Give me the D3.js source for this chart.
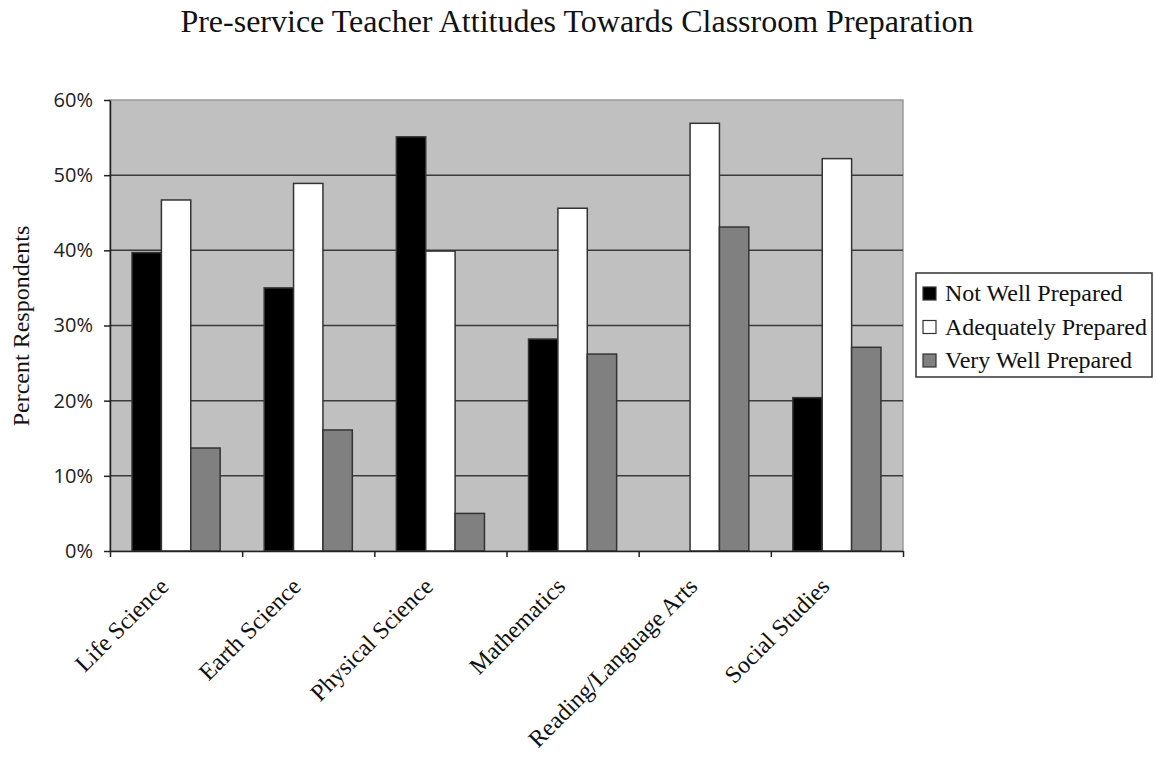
<!DOCTYPE html>
<html lang="en">
<head>
<meta charset="utf-8">
<title>teacher attitudes</title>
<script src="https://cdn.jsdelivr.net/npm/d3@7"></script>
<style>
body{margin:0;background:#fff}
</style>
</head>
<body>
<div id="chart"></div>
<script>
// data
var subjects = ["Life Science","Earth Science","Physical Science","Mathematics","Reading/Language Arts","Social Studies"]
var seriesNames = ["Not Well Prepared","Adequately Prepared","Very Well Prepared"]
var notWell = [39.7,35.0,55.1,28.2,0,20.4]
var adequate = [46.7,48.9,39.9,45.6,56.9,52.2]
var veryWell = [13.7,16.1,5.0,26.2,43.1,27.1]
var yTicks = [0,10,20,30,40,50,60]
var colors = ["#000000","#ffffff","#808080"]

var W = 1156, H = 757
var pLeft = 110, pRight = 903, pTop = 100, pBottom = 551
var serif = "Liberation Serif, Times New Roman, serif"

var svg = d3.select("#chart").append("svg").attr("width",W).attr("height",H)

var x = d3.scaleBand().domain(subjects).range([pLeft,pRight])
var y = d3.scaleLinear().domain([0,60]).range([pBottom,pTop])

// plot area
svg.append("rect").attr("x",pLeft).attr("y",pTop).attr("width",pRight-pLeft).attr("height",pBottom-pTop)
	.attr("fill","#c0c0c0").attr("stroke","#9a9a9a").attr("stroke-width",1.5)

// grid lines
svg.selectAll(".grid").data(yTicks.filter(function(d){return d>0 && d<60}))
	.enter().append("line")
	.attr("x1",pLeft).attr("x2",pRight)
	.attr("y1",function(d){return y(d)}).attr("y2",function(d){return y(d)})
	.attr("stroke","#3a3a3a").attr("stroke-width",1.5)

// bars
var bw = x.bandwidth()/4.5
var all = [notWell,adequate,veryWell]
all.forEach(function(vals,s){
	svg.selectAll(".bar"+s).data(subjects).enter().append("rect")
		.attr("x",function(d,i){return x(d)+x.bandwidth()/2-1.5*bw+s*bw})
		.attr("y",function(d,i){return y(vals[i])})
		.attr("width",bw)
		.attr("height",function(d,i){return pBottom-y(vals[i])})
		.attr("fill",colors[s])
		.attr("stroke",function(d,i){return vals[i]>0?"#333":"none"})
		.attr("stroke-width",1.5)
})

// y axis
var yAxis = d3.axisLeft(y).tickValues(yTicks).tickFormat(function(d){return d+"%"}).tickSize(6).tickSizeOuter(0)
var ga = svg.append("g").attr("transform","translate("+pLeft+",0)").call(yAxis)
ga.select(".domain").attr("stroke","#222").attr("stroke-width",1.5)
ga.selectAll(".tick line").attr("stroke","#222").attr("stroke-width",1.5)
ga.selectAll("text").attr("font-family","Open Sans, DejaVu Sans, sans-serif").attr("font-size",20)
	.attr("fill","#222").attr("x",-17)

// x axis
var xAxis = d3.axisBottom(d3.scaleLinear().domain([0,6]).range([pLeft,pRight])).tickValues([0,1,2,3,4,5,6]).tickFormat("").tickSize(6).tickSizeOuter(0)
var gx = svg.append("g").attr("transform","translate(0,"+pBottom+")").call(xAxis)
gx.select(".domain").attr("stroke","#222").attr("stroke-width",1.5)
gx.selectAll(".tick line").attr("stroke","#222").attr("stroke-width",1.5)

// category labels
svg.selectAll(".xlab").data(subjects).enter().append("text")
	.attr("transform",function(d){return "translate("+(x(d)+x.bandwidth()/2-6)+",588) rotate(-45)"})
	.attr("text-anchor","end")
	.attr("font-family",serif).attr("font-size",24).attr("fill","#111")
	.text(function(d){return d})

// title
svg.append("text").attr("x",577).attr("y",32).attr("text-anchor","middle")
	.attr("font-family",serif).attr("font-size",32).attr("fill","#111")
	.text("Pre-service Teacher Attitudes Towards Classroom Preparation")

// y label
svg.append("text").attr("transform","translate(29,326) rotate(-90)").attr("text-anchor","middle")
	.attr("font-family",serif).attr("font-size",24).attr("fill","#111")
	.text("Percent Respondents")

// legend
var lg = svg.append("g").attr("transform","translate(916,273)")
lg.append("rect").attr("width",236).attr("height",104).attr("fill","#fff").attr("stroke","#333").attr("stroke-width",1.5)
seriesNames.forEach(function(n,i){
	var yy = 20+i*33.5
	lg.append("rect").attr("x",7).attr("y",yy-6).attr("width",13).attr("height",13)
		.attr("fill",colors[i]).attr("stroke","#333").attr("stroke-width",1.2)
	lg.append("text").attr("x",29).attr("y",yy+8)
		.attr("font-family",serif).attr("font-size",24).attr("fill","#111")
		.text(n)
})
</script>
</body>
</html>
